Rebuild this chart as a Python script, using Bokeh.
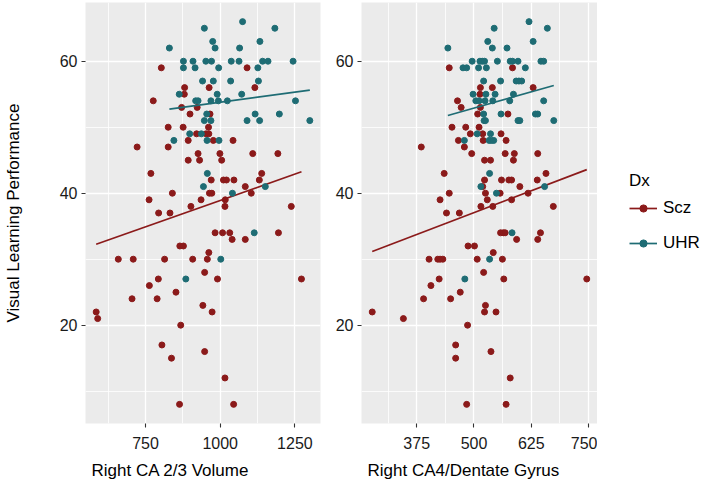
import numpy as np
from bokeh.plotting import figure
from bokeh.models import Range1d, FixedTicker, Legend, LegendItem, Title
from bokeh.layouts import row
from bokeh.embed import file_html
from bokeh.resources import INLINE

# ---------------- data ----------------
groups = ["Scz", "UHR"]
group_colors = ["#8B1A1A", "#1E6C74"]

y_ticks = [20, 40, 60]
y_minor = [10, 30, 50]

# Left panel: Right CA 2/3 Volume
ca23_ticks = [750, 1000, 1250]
ca23_minor = [625, 875, 1125]
ca23_scz_x = [803, 1090, 881, 963, 1116, 880, 776, 871, 923, 899, 966, 826, 876, 961,
              921, 953, 962, 893, 977, 1043, 722, 826, 926, 999, 1109, 1193, 893, 931, 1005,
              768, 1139, 970, 1011, 1021, 1046, 1131, 1084, 840, 964, 972, 1104, 762, 936, 1017,
              902, 1016, 1238, 794, 832, 983, 1008, 1032, 1195, 1040, 1084, 865, 877, 962,
              659, 709, 814, 908, 957, 948, 793, 991, 1272, 763, 852, 705, 789, 942, 585, 973,
              590, 868, 805, 948, 837, 1016, 864, 1045]
ca23_scz_y = [59, 59, 56, 56, 56, 55, 54, 53, 53, 52, 52, 50, 50, 50,
              49, 49, 49, 48, 48, 48, 47, 47, 46, 46, 46, 46, 45, 45, 45,
              43, 43, 42, 42, 42, 42, 42, 41, 40, 40, 40, 40, 39, 39, 39,
              38, 38, 38, 37, 37, 34, 34, 34, 34, 33, 33, 32, 32, 31,
              30, 30, 30, 30, 30, 28, 27, 27, 27, 26, 25, 24, 24, 23, 22, 22,
              21, 20, 17, 16, 15, 12, 8, 8]
ca23_uhr_x = [1075, 947, 1183, 975, 1133, 830, 983, 1065,
              877, 909, 952, 971, 1037, 1063, 1142, 1160, 1244,
              877, 916, 995, 1126, 941, 977, 1035, 1128, 863, 990, 1072,
              918, 926, 969, 994, 1024, 1252, 955, 1117, 1198,
              947, 969, 1090, 1132, 1300, 898, 937, 845, 956, 996,
              957, 944, 1151, 1041, 1114, 1002, 885]
ca23_uhr_y = [66, 65, 65, 63, 63, 62, 62, 62,
              60, 60, 60, 60, 60, 60, 60, 60, 60,
              59, 59, 59, 59, 57, 57, 57, 57, 55, 55, 55,
              54, 54, 54, 54, 54, 54, 52, 52, 52,
              51, 51, 51, 51, 51, 49, 49, 48, 48, 48,
              43, 41, 41, 40, 34, 30, 27]

# Right panel: Right CA4/Dentate Gyrus
ca4_ticks = [375, 500, 625, 750]
ca4_minor = [312.5, 437.5, 562.5, 687.5]
ca4_scz_x = [446, 584, 514, 540, 629, 513, 464, 472, 514, 508, 574, 452, 482, 511,
             492, 519, 559, 466, 520, 570, 385, 479, 495, 568, 588, 639, 523, 536, 586,
             435, 657, 523, 560, 576, 582, 638, 519, 600, 446, 525, 557, 618, 426, 529, 582,
             515, 541, 673, 440, 468, 558, 564, 568, 645, 593, 639, 487, 501, 542,
             402, 421, 426, 432, 507, 562, 521, 424, 565, 746, 406, 470, 390, 449, 525,
             278, 523, 548, 346, 486, 460, 537, 460, 579, 484, 570]
ca4_scz_y = [59, 59, 56, 56, 56, 55, 54, 53, 53, 52, 52, 50, 50, 50,
             49, 49, 49, 48, 48, 48, 47, 47, 46, 46, 46, 46, 45, 45, 45,
             43, 43, 42, 42, 42, 42, 42, 41, 41, 40, 40, 40, 40, 39, 39, 39,
             38, 38, 38, 37, 37, 34, 34, 34, 34, 33, 33, 32, 32, 31,
             30, 30, 30, 30, 30, 30, 28, 27, 27, 27, 26, 25, 24, 24, 23,
             22, 22, 22, 21, 20, 17, 16, 15, 12, 8, 8]
ca4_uhr_x = [620, 544, 660, 530, 629, 443, 540, 572,
             496, 513, 518, 523, 551, 579, 584, 596, 646, 652,
             476, 484, 510, 527, 612, 521, 558, 592, 598, 604,
             498, 526, 546, 586, 504, 511, 524, 541, 578, 652,
             521, 559, 634, 639, 522, 525, 596, 600, 674,
             507, 536, 479, 533, 538, 543, 534, 515, 654, 549, 583, 534, 480]
ca4_uhr_y = [66, 65, 65, 63, 63, 62, 62, 62,
             60, 60, 60, 60, 60, 60, 60, 60, 60, 60,
             59, 59, 59, 59, 59, 57, 57, 57, 57, 57,
             55, 55, 55, 55, 54, 54, 54, 54, 54, 54,
             52, 52, 52, 52, 51, 51, 51, 51, 51,
             49, 49, 48, 48, 48, 48, 43, 41, 41, 40, 34, 30, 27]

FONT = "Liberation Sans"
TXT = "#1A1A1A"
H = 489
TOP = 2
BOTTOM = 66


def expand(vals):
    lo, hi = min(vals), max(vals)
    pad = 0.05 * (hi - lo)
    return lo - pad, hi + pad


all_y = ca23_scz_y + ca23_uhr_y + ca4_scz_y + ca4_uhr_y
y_lo, y_hi = expand(all_y)


def make_panel(xs, ys, ticks, minor, x_title, width, left, right, y_title=None):
    x_lo, x_hi = expand(xs[0] + xs[1])
    p = figure(width=width, height=H, x_range=Range1d(x_lo, x_hi),
               y_range=Range1d(y_lo, y_hi), output_backend="svg",
               toolbar_location=None, min_border_left=left, min_border_right=right,
               min_border_top=TOP, min_border_bottom=BOTTOM)
    p.background_fill_color = "#EBEBEB"
    p.border_fill_color = "white"
    p.outline_line_color = None

    p.xaxis.ticker = FixedTicker(ticks=ticks, minor_ticks=minor)
    p.yaxis.ticker = FixedTicker(ticks=y_ticks, minor_ticks=y_minor)
    for g in (p.xgrid, p.ygrid):
        g.grid_line_color = "white"
        g.grid_line_width = 1.3
        g.minor_grid_line_color = "white"
        g.minor_grid_line_width = 0.8
    for ax in (p.xaxis, p.yaxis):
        ax.axis_line_color = None
        ax.major_tick_line_color = "#333333"
        ax.major_tick_line_width = 1.1
        ax.major_tick_out = 4
        ax.major_tick_in = 0
        ax.minor_tick_line_color = None
        ax.major_label_text_font = FONT
        ax.major_label_text_font_size = "16px"
        ax.major_label_text_color = TXT
    p.xaxis.major_label_standoff = 9
    p.yaxis.major_label_standoff = 4

    if y_title:
        p.yaxis.axis_label = y_title
        p.yaxis.axis_label_text_font = FONT
        p.yaxis.axis_label_text_font_size = "17px"
        p.yaxis.axis_label_text_font_style = "normal"
        p.yaxis.axis_label_text_color = "black"
        p.yaxis.axis_label_standoff = 34

    t = Title(text=x_title, align="left", offset=6, text_font=FONT,
              text_font_size="17px", text_font_style="normal", text_color="black",
              standoff=14)
    p.add_layout(t, "below")

    for gx, gy, col in zip(xs, ys, group_colors):
        p.scatter(gx, gy, size=6, color=col, line_color=col)
        gxa = np.array(gx, dtype=float)
        gya = np.array(gy, dtype=float)
        b, a = np.polyfit(gxa, gya, 1)
        lx = np.array([gxa.min(), gxa.max()])
        p.line(lx, a + b * lx, line_color=col, line_width=1.7)
    return p


p1 = make_panel([ca23_scz_x, ca23_uhr_x], [ca23_scz_y, ca23_uhr_y],
                ca23_ticks, ca23_minor, "Right CA 2/3 Volume", 322, 83, 2,
                y_title="Visual Learning Performance")
p2 = make_panel([ca4_scz_x, ca4_uhr_x], [ca4_scz_y, ca4_uhr_y],
                ca4_ticks, ca4_minor, "Right CA4/Dentate Gyrus", 275, 39, 0)

# legend panel (legend-only renderers hold a single undefined point)
p3 = figure(width=104, height=H, x_range=Range1d(0, 1), y_range=Range1d(0, 1),
            output_backend="svg", toolbar_location=None,
            min_border_left=0, min_border_right=0, min_border_top=TOP,
            min_border_bottom=BOTTOM)
p3.axis.visible = False
p3.grid.visible = False
p3.outline_line_color = None
p3.background_fill_color = "white"
p3.border_fill_color = "white"
blank = np.array([np.nan])
items = []
for name, col in zip(groups, group_colors):
    lr = p3.line(blank, blank, line_color=col, line_width=1.7)
    sr = p3.scatter(blank, blank, size=6, color=col, line_color=col)
    items.append(LegendItem(label=name, renderers=[lr, sr]))

legend = Legend(items=items, title="Dx", location=(32, 170))
legend.title_text_font = FONT
legend.title_text_font_size = "17px"
legend.title_text_font_style = "normal"
legend.title_text_color = "black"
legend.title_standoff = 7
legend.label_text_font = FONT
legend.label_text_font_size = "17px"
legend.label_text_color = "black"
legend.glyph_width = 28
legend.glyph_height = 18
legend.label_height = 18
legend.label_standoff = 6
legend.spacing = 15
legend.padding = 0
legend.margin = 0
legend.background_fill_alpha = 0
legend.border_line_color = None
p3.add_layout(legend)

layout = row(p1, p2, p3)
open("out.html", "w").write(file_html(layout, INLINE))
